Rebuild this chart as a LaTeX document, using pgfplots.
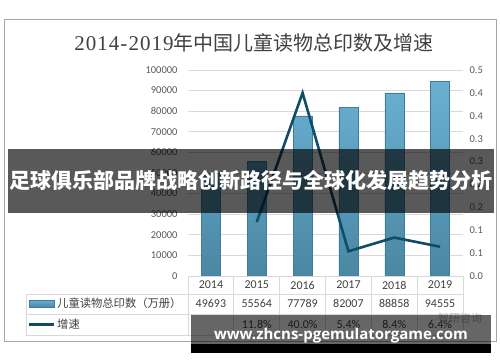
\documentclass[border=0pt]{standalone}
\usepackage{pgfplots}
\pgfplotsset{compat=1.18}
\usepackage{fontspec}
\setmainfont{Carlito}
\newfontfamily\cjk{Noto Sans CJK SC}
\newfontfamily\titledigits[LetterSpace=5]{Liberation Serif}
\newfontfamily\wmfont{Open Sans}
\definecolor{barTop}{HTML}{6BB0D2}
\definecolor{barBot}{HTML}{4A87A3}
\definecolor{barEdge}{HTML}{3F7E99}
\definecolor{lineCol}{HTML}{0F4D67}
\definecolor{gridCol}{HTML}{D9D9D9}
\definecolor{tickCol}{HTML}{595959}
\definecolor{txtCol}{HTML}{404040}
\begin{document}
\begin{tikzpicture}[x=1pt,y=1pt]
\path[use as bounding box] (0,0) rectangle (500,362);
\draw[color=gray!70, line width=0.8pt] (4,21) rectangle (496,343);
\node[text=txtCol, inner sep=0pt] at (254,319) {{\titledigits\fontsize{21}{24}\selectfont 2014-2019}{\cjk\fontsize{20}{24}\selectfont 年中国儿童读物总印数及增速}};

\begin{axis}[at={(188pt,86pt)}, anchor=south west, width=275pt, height=206pt, scale only axis,
  xmin=-0.5, xmax=5.5, ymin=0, ymax=100000, xtick=\empty,
  ytick={0,10000,20000,30000,40000,50000,60000,70000,80000,90000,100000},
  axis line style={draw=none}, tick style={draw=none},
  ymajorgrids, grid style={gridCol, line width=0.75pt},
  scaled y ticks=false, /pgf/number format/fixed, /pgf/number format/1000 sep={}, /pgf/number format/assume math mode=true,
  yticklabel style={font=\fontsize{10.5}{12}\selectfont, text=tickCol, xshift=-7pt}]
\addplot[ybar, bar width=19pt, draw=barEdge, line width=0.4pt, top color=barTop, bottom color=barBot]
  coordinates {(0,49693) (1,55564) (2,77789) (3,82007) (4,88858) (5,94555)};
\end{axis}

\begin{axis}[at={(188pt,86pt)}, anchor=south west, width=275pt, height=206pt, scale only axis,
  xmin=-0.5, xmax=5.5, ymin=0, ymax=0.45, xtick=\empty,
  ytick={0,0.05,0.1,0.15,0.2,0.25,0.3,0.35,0.4,0.45},
  yticklabels={0.0,0.1,0.1,0.2,0.2,0.3,0.3,0.4,0.4,0.5},
  yticklabel pos=right,
  axis line style={draw=none}, tick style={draw=none},
  /pgf/number format/assume math mode=true,
  yticklabel style={font=\fontsize{10.5}{12}\selectfont, text=tickCol, xshift=3pt}]
\addplot[lineCol, line width=2.6pt] coordinates {(1,0.118) (2,0.400) (3,0.054) (4,0.084) (5,0.064)};
\end{axis}

% data table
\draw[gridCol, line width=0.75pt] (188,86) -- (463,86);
\draw[gridCol, line width=0.75pt] (26,68) -- (463,68);
\draw[gridCol, line width=0.75pt] (26,48) -- (463,48);
\draw[gridCol, line width=0.75pt] (26,27) -- (463,27);
\draw[gridCol, line width=0.75pt] (26,68) -- (26,27);
\foreach \i in {0,...,6} {\draw[gridCol, line width=0.75pt] ({188+45.833*\i},86) -- ({188+45.833*\i},27);}
\foreach \i/\y in {0/2014,1/2015,2/2016,3/2017,4/2018,5/2019}
  {\node[text=txtCol, font=\fontsize{12}{14}\selectfont] at ({210.92+45.833*\i},77) {\y};}
\foreach \i/\v in {0/49693,1/55564,2/77789,3/82007,4/88858,5/94555}
  {\node[text=txtCol, font=\fontsize{12}{14}\selectfont] at ({210.92+45.833*\i},58.5) {\v};}
\foreach \i/\v in {1/11.8\%,2/40.0\%,3/5.4\%,4/8.4\%,5/6.4\%}
  {\node[text=txtCol, font=\fontsize{12}{14}\selectfont] at ({210.92+45.833*\i},37.5) {\v};}
\shade[top color=barTop, bottom color=barBot, draw=barEdge, line width=0.4pt] (29,55) rectangle (54,62);
\node[anchor=west, text=txtCol, font=\cjk\fontsize{11.3}{13}\selectfont, inner sep=1pt] at (56,58.5) {儿童读物总印数（万册）};
\draw[lineCol, line width=2.6pt] (29,37.5) -- (54,37.5);
\node[anchor=west, text=txtCol, font=\cjk\fontsize{11.3}{13}\selectfont, inner sep=1pt] at (56,37.5) {增速};

% logo
\node[text=gray!60, font=\cjk\fontsize{11}{12}\selectfont] at (460,44) {智研咨询};

% overlay bands
\fill[black, opacity=0.65] (8,149) rectangle (494,213);
\node[text=white, font=\cjk\bfseries\fontsize{21}{24}\selectfont] at (251,181) {足球俱乐部品牌战略创新路径与全球化发展趋势分析};
\fill[black, opacity=0.6] (191,18) rectangle (491,47);
\fill[black] (191,9) rectangle (491,18);
\node[text=white, font=\wmfont\bfseries\fontsize{15}{18}\selectfont] at (341,26) {www.zhcns-pgemulatorgame.com};
\end{tikzpicture}
\end{document}
